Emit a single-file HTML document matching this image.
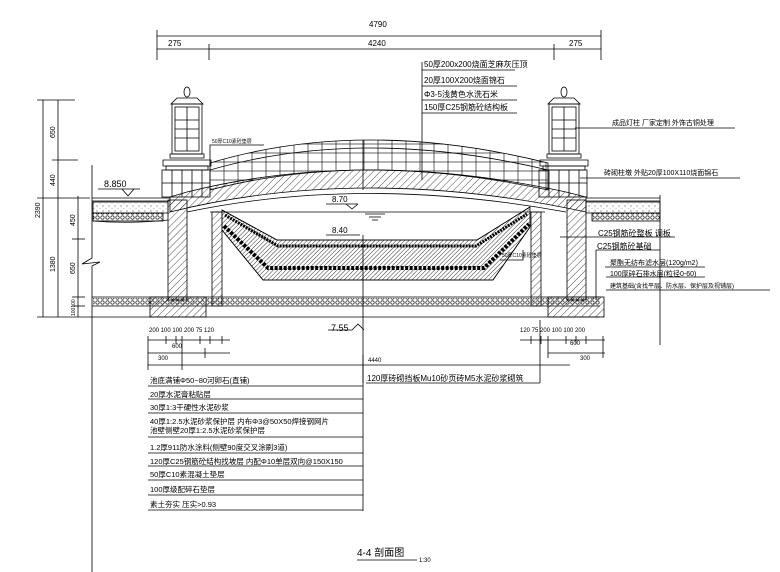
<!DOCTYPE html>
<html><head><meta charset="utf-8"><style>
html,body{margin:0;padding:0;background:#fff;}
svg{display:block;}
text{font-family:"Liberation Sans","Noto Sans CJK SC",sans-serif;fill:#000;}
</style></head><body>
<svg width="780" height="572" viewBox="0 0 780 572" xmlns="http://www.w3.org/2000/svg">
<defs>
<pattern id="h" width="5" height="5" patternUnits="userSpaceOnUse" patternTransform="rotate(45)"><line x1="0" y1="0" x2="0" y2="5" stroke="#000" stroke-width="0.7"/></pattern>
<pattern id="hd" width="3" height="3" patternUnits="userSpaceOnUse" patternTransform="rotate(45)"><line x1="0" y1="0" x2="0" y2="3" stroke="#000" stroke-width="0.8"/></pattern>
<pattern id="g" width="5" height="5" patternUnits="userSpaceOnUse"><circle cx="2.5" cy="2.5" r="1.7" fill="none" stroke="#000" stroke-width="0.6"/></pattern>
<pattern id="d" width="6" height="5" patternUnits="userSpaceOnUse"><circle cx="1" cy="1" r="0.5" fill="#000"/><circle cx="4" cy="3.5" r="0.4" fill="#555"/></pattern>
<pattern id="tile" width="14" height="9" patternUnits="userSpaceOnUse"><rect width="14" height="9" fill="none" stroke="#000" stroke-width="0.6"/></pattern>
</defs>
<g stroke="#000" stroke-width="0.8" fill="none">
<line x1="157" y1="36" x2="601" y2="36"/><line x1="157" y1="49" x2="601" y2="49"/>
<line x1="157" y1="30" x2="157" y2="60"/><line x1="209" y1="44" x2="209" y2="60"/><line x1="554" y1="44" x2="554" y2="60"/><line x1="601" y1="30" x2="601" y2="60"/>
<line x1="43" y1="100" x2="43" y2="317"/><line x1="58" y1="100" x2="58" y2="317"/><line x1="78" y1="196" x2="78" y2="317"/>
<line x1="37" y1="100" x2="75" y2="100"/><line x1="52" y1="160" x2="78" y2="160"/><line x1="37" y1="198" x2="90" y2="198"/>
<line x1="72" y1="239" x2="85" y2="239"/><line x1="72" y1="297" x2="85" y2="297"/><line x1="72" y1="306" x2="85" y2="306"/><line x1="37" y1="317" x2="92" y2="317"/>
<path d="M92 165 V258 L82 264 L100 262 L92 266 V572"/>
<line x1="92" y1="198" x2="170" y2="198"/><line x1="92" y1="201" x2="170" y2="201"/>
<rect x="93" y="202" width="75" height="11" fill="url(#d)"/>
<rect x="93" y="213" width="70" height="8" fill="url(#g)"/>
<path d="M93 221 Q130 224 168 220" />
<line x1="92" y1="297" x2="600" y2="297"/><line x1="92" y1="306" x2="600" y2="306"/><line x1="92" y1="317" x2="600" y2="317"/>
<rect x="93" y="298" width="507" height="8" fill="url(#g)" stroke="none"/>
<rect x="150" y="297" width="56" height="20" fill="url(#h)"/>
<rect x="548" y="297" width="56" height="20" fill="url(#h)"/>
<rect x="168" y="200" width="19" height="100" fill="url(#h)"/>
<rect x="212" y="212" width="10" height="94" fill="url(#h)"/>
<rect x="531" y="212" width="10" height="94" fill="url(#h)"/>
<rect x="567" y="200" width="19" height="100" fill="url(#h)"/>
<line x1="586" y1="198" x2="660" y2="198"/><line x1="586" y1="201" x2="660" y2="201"/>
<rect x="586" y="202" width="74" height="11" fill="url(#d)"/>
<rect x="592" y="213" width="68" height="8" fill="url(#g)"/>
<line x1="660" y1="195" x2="660" y2="345"/>
<!-- arch slab -->
<path d="M170 197 L187 192 Q363 148 566 192 L586 197 L586 212 Q363 164 170 212 Z" fill="url(#h)"/>
<path d="M187 212 Q363 175 566 212"/>
<!-- deck tiles -->
<path d="M210 163 Q363 117 548 163 L548 190 Q363 150 210 190 Z" fill="url(#tile)"/>
<path d="M210 170 Q363 126 548 170"/>
<line x1="363" y1="140" x2="363" y2="190"/>
<!-- basin -->
<path d="M222 210 L277 240 L477 240 L530 207 L530 227 L493 280 L263 280 L222 230 Z" fill="url(#hd)"/>
<path d="M225 215 L278 246 L476 246 L527 214" stroke-width="3" stroke-dasharray="2 1"/>
<path d="M224 226 L268 268 L484 268 L529 224" stroke-width="4" stroke-dasharray="3 1.5"/>
<path d="M222 210 L277 240 L477 240 L530 207"/>
<path d="M222 230 L263 280 L493 280 L530 227"/>
<line x1="210" y1="212" x2="545" y2="212"/>
<line x1="365" y1="214" x2="385" y2="214"/><line x1="369" y1="217" x2="381" y2="217"/><line x1="372" y1="220" x2="378" y2="220"/>
<g id="lamp">
<ellipse cx="187" cy="92" rx="3" ry="5"/>
<path d="M177 98 H197 L203 104 H171 Z"/>
<rect x="172" y="104" width="30" height="50"/>
<rect x="175" y="107" width="24" height="44"/>
<line x1="187" y1="107" x2="187" y2="151"/><line x1="175" y1="120" x2="199" y2="120"/><line x1="175" y1="129" x2="199" y2="129"/><line x1="175" y1="138" x2="199" y2="138"/>
<path d="M170 154 H204 V158 H170 Z"/>
<path d="M163 160 H211 V166 H163 Z"/><path d="M166 166 H208 V170 H166 Z"/>
<rect x="162" y="170" width="48" height="27"/>
<line x1="162" y1="183" x2="210" y2="183"/>
<line x1="172" y1="170" x2="172" y2="197"/><line x1="182" y1="170" x2="182" y2="197"/><line x1="192" y1="170" x2="192" y2="197"/><line x1="202" y1="170" x2="202" y2="197"/>
</g>
<use href="#lamp" x="377"/>
<line x1="363" y1="235" x2="363" y2="383"/>
<path d="M98 189 H140 M122 189 L128 196 L134 189"/>
<path d="M326 204 H358 M346 204 L352 209 L358 204"/>
<path d="M326 235 H360"/>
<path d="M328 330 H352 L358 324 L364 330"/>
<line x1="422" y1="62" x2="422" y2="180"/>
<line x1="422" y1="70" x2="515" y2="70"/><line x1="422" y1="86" x2="517" y2="86"/><line x1="422" y1="100" x2="517" y2="100"/><line x1="422" y1="113" x2="517" y2="113"/>
<path d="M210 165 V145 H264"/>
<path d="M575 128 H735"/><path d="M580 178 H740"/>
<path d="M560 237 H675"/><path d="M596 250 V300"/><path d="M596 250 H660"/>
<path d="M605 267 H705"/><path d="M606 277 H705"/><path d="M606 290 H770"/>
<path d="M500 260 H523 V250"/>
<line x1="148" y1="340" x2="230" y2="340"/><line x1="148" y1="353" x2="230" y2="353"/>
<line x1="148" y1="336" x2="148" y2="370"/><line x1="166" y1="336" x2="166" y2="344"/><line x1="176" y1="336" x2="176" y2="344"/><line x1="182" y1="336" x2="182" y2="370"/><line x1="200" y1="336" x2="200" y2="344"/><line x1="210" y1="336" x2="210" y2="344"/><line x1="222" y1="336" x2="222" y2="344"/><line x1="205" y1="348" x2="205" y2="358"/>
<line x1="520" y1="340" x2="605" y2="340"/><line x1="548" y1="353" x2="605" y2="353"/>
<line x1="531" y1="336" x2="531" y2="344"/><line x1="541" y1="336" x2="541" y2="344"/><line x1="548" y1="336" x2="548" y2="358"/><line x1="566" y1="336" x2="566" y2="344"/><line x1="576" y1="336" x2="576" y2="344"/><line x1="586" y1="336" x2="586" y2="344"/><line x1="603" y1="336" x2="603" y2="358"/>
<line x1="540" y1="320" x2="540" y2="383"/>
<line x1="148" y1="365" x2="570" y2="365"/>
<line x1="363" y1="355" x2="363" y2="511"/>
<line x1="148" y1="386" x2="363" y2="386"/><line x1="148" y1="399" x2="363" y2="399"/><line x1="148" y1="413" x2="363" y2="413"/><line x1="148" y1="437" x2="363" y2="437"/><line x1="148" y1="453" x2="363" y2="453"/><line x1="148" y1="466" x2="363" y2="466"/><line x1="148" y1="480" x2="363" y2="480"/><line x1="148" y1="495" x2="363" y2="495"/><line x1="148" y1="510" x2="363" y2="510"/>
<line x1="366" y1="383" x2="540" y2="383"/>
<line x1="357" y1="560" x2="417" y2="560"/>
</g>
<g font-size="8">
<text x="369" y="27">4790</text><text x="168" y="46">275</text><text x="368" y="46">4240</text><text x="569" y="46">275</text>
<g font-size="7">
<text transform="translate(55,138) rotate(-90)">650</text>
<text transform="translate(55,186) rotate(-90)">440</text>
<text transform="translate(40,218) rotate(-90)">2390</text>
<text transform="translate(75,226) rotate(-90)">450</text>
<text transform="translate(75,274) rotate(-90)">650</text>
<text transform="translate(55,272) rotate(-90)">1380</text>
<text transform="translate(75,316) rotate(-90)" font-size="5">100100</text>
</g>
<text x="104" y="187" font-size="9">8.850</text>
<text x="332" y="202">8.70</text><text x="332" y="233">8.40</text><text x="331" y="331" font-size="9">7.55</text>
<text x="424" y="67" font-size="8">50厚200x200烧面芝麻灰压顶</text>
<text x="424" y="83" font-size="8">20厚100X200烧面锦石</text>
<text x="424" y="97" font-size="8">Φ3-5浅黄色水洗石米</text>
<text x="424" y="110" font-size="8">150厚C25钢筋砼结构板</text>
<text x="212" y="143" font-size="5">50厚C10素砼垫层</text>
<text x="502" y="257" font-size="5">50厚C10素砼垫层</text>
<text x="612" y="125" font-size="7">成品灯柱 厂家定制  外饰古铜处理</text>
<text x="604" y="175" font-size="7">砖砌柱墩 外贴20厚100X110烧面锦石</text>
<text x="598" y="236" font-size="8">C25钢筋砼整板 调板</text>
<text x="597" y="249" font-size="8">C25钢筋砼基础</text>
<text x="610" y="265" font-size="7">聚酯无纺布滤水层(120g/m2)</text>
<text x="610" y="276" font-size="7">100厚碎石排水层(粒径0-60)</text>
<text x="610" y="288" font-size="6">建筑基础(含找平层、防水层、保护层及视铺层)</text>
<text x="149" y="332" font-size="6">200 100 100 200 75 120</text>
<text x="172" y="348" font-size="6">600</text><text x="158" y="360" font-size="6">300</text>
<text x="520" y="332" font-size="6">120 75 200 100 100 200</text>
<text x="570" y="345" font-size="6">600</text><text x="580" y="360" font-size="6">300</text>
<text x="368" y="362" font-size="6">4440</text>
<text x="367" y="381" font-size="8">120厚砖砌挡板Mu10砂页砖M5水泥砂浆砌筑</text>
<g font-size="7.5">
<text x="150" y="383">池底满铺Φ50~80河卵石(直铺)</text>
<text x="150" y="397">20厚水泥膏粘贴层</text>
<text x="150" y="410">30厚1:3干硬性水泥砂浆</text>
<text x="150" y="424">40厚1:2.5水泥砂浆保护层 内布Φ3@50X50焊接钢网片</text>
<text x="150" y="433">池壁侧壁20厚1:2.5水泥砂浆保护层</text>
<text x="150" y="450">1.2厚911防水涂料(侧壁90度交叉涂刷3道)</text>
<text x="150" y="464">120厚C25钢筋砼结构找坡层 内配Φ10单层双向@150X150</text>
<text x="150" y="477">50厚C10素混凝土垫层</text>
<text x="150" y="492">100厚级配碎石垫层</text>
<text x="150" y="507">素土夯实 压实&gt;0.93</text>
</g>
<text x="357" y="556" font-size="10">4-4 剖面图</text><text x="419" y="562" font-size="6">1:30</text>
</g>
</svg>
</body></html>
